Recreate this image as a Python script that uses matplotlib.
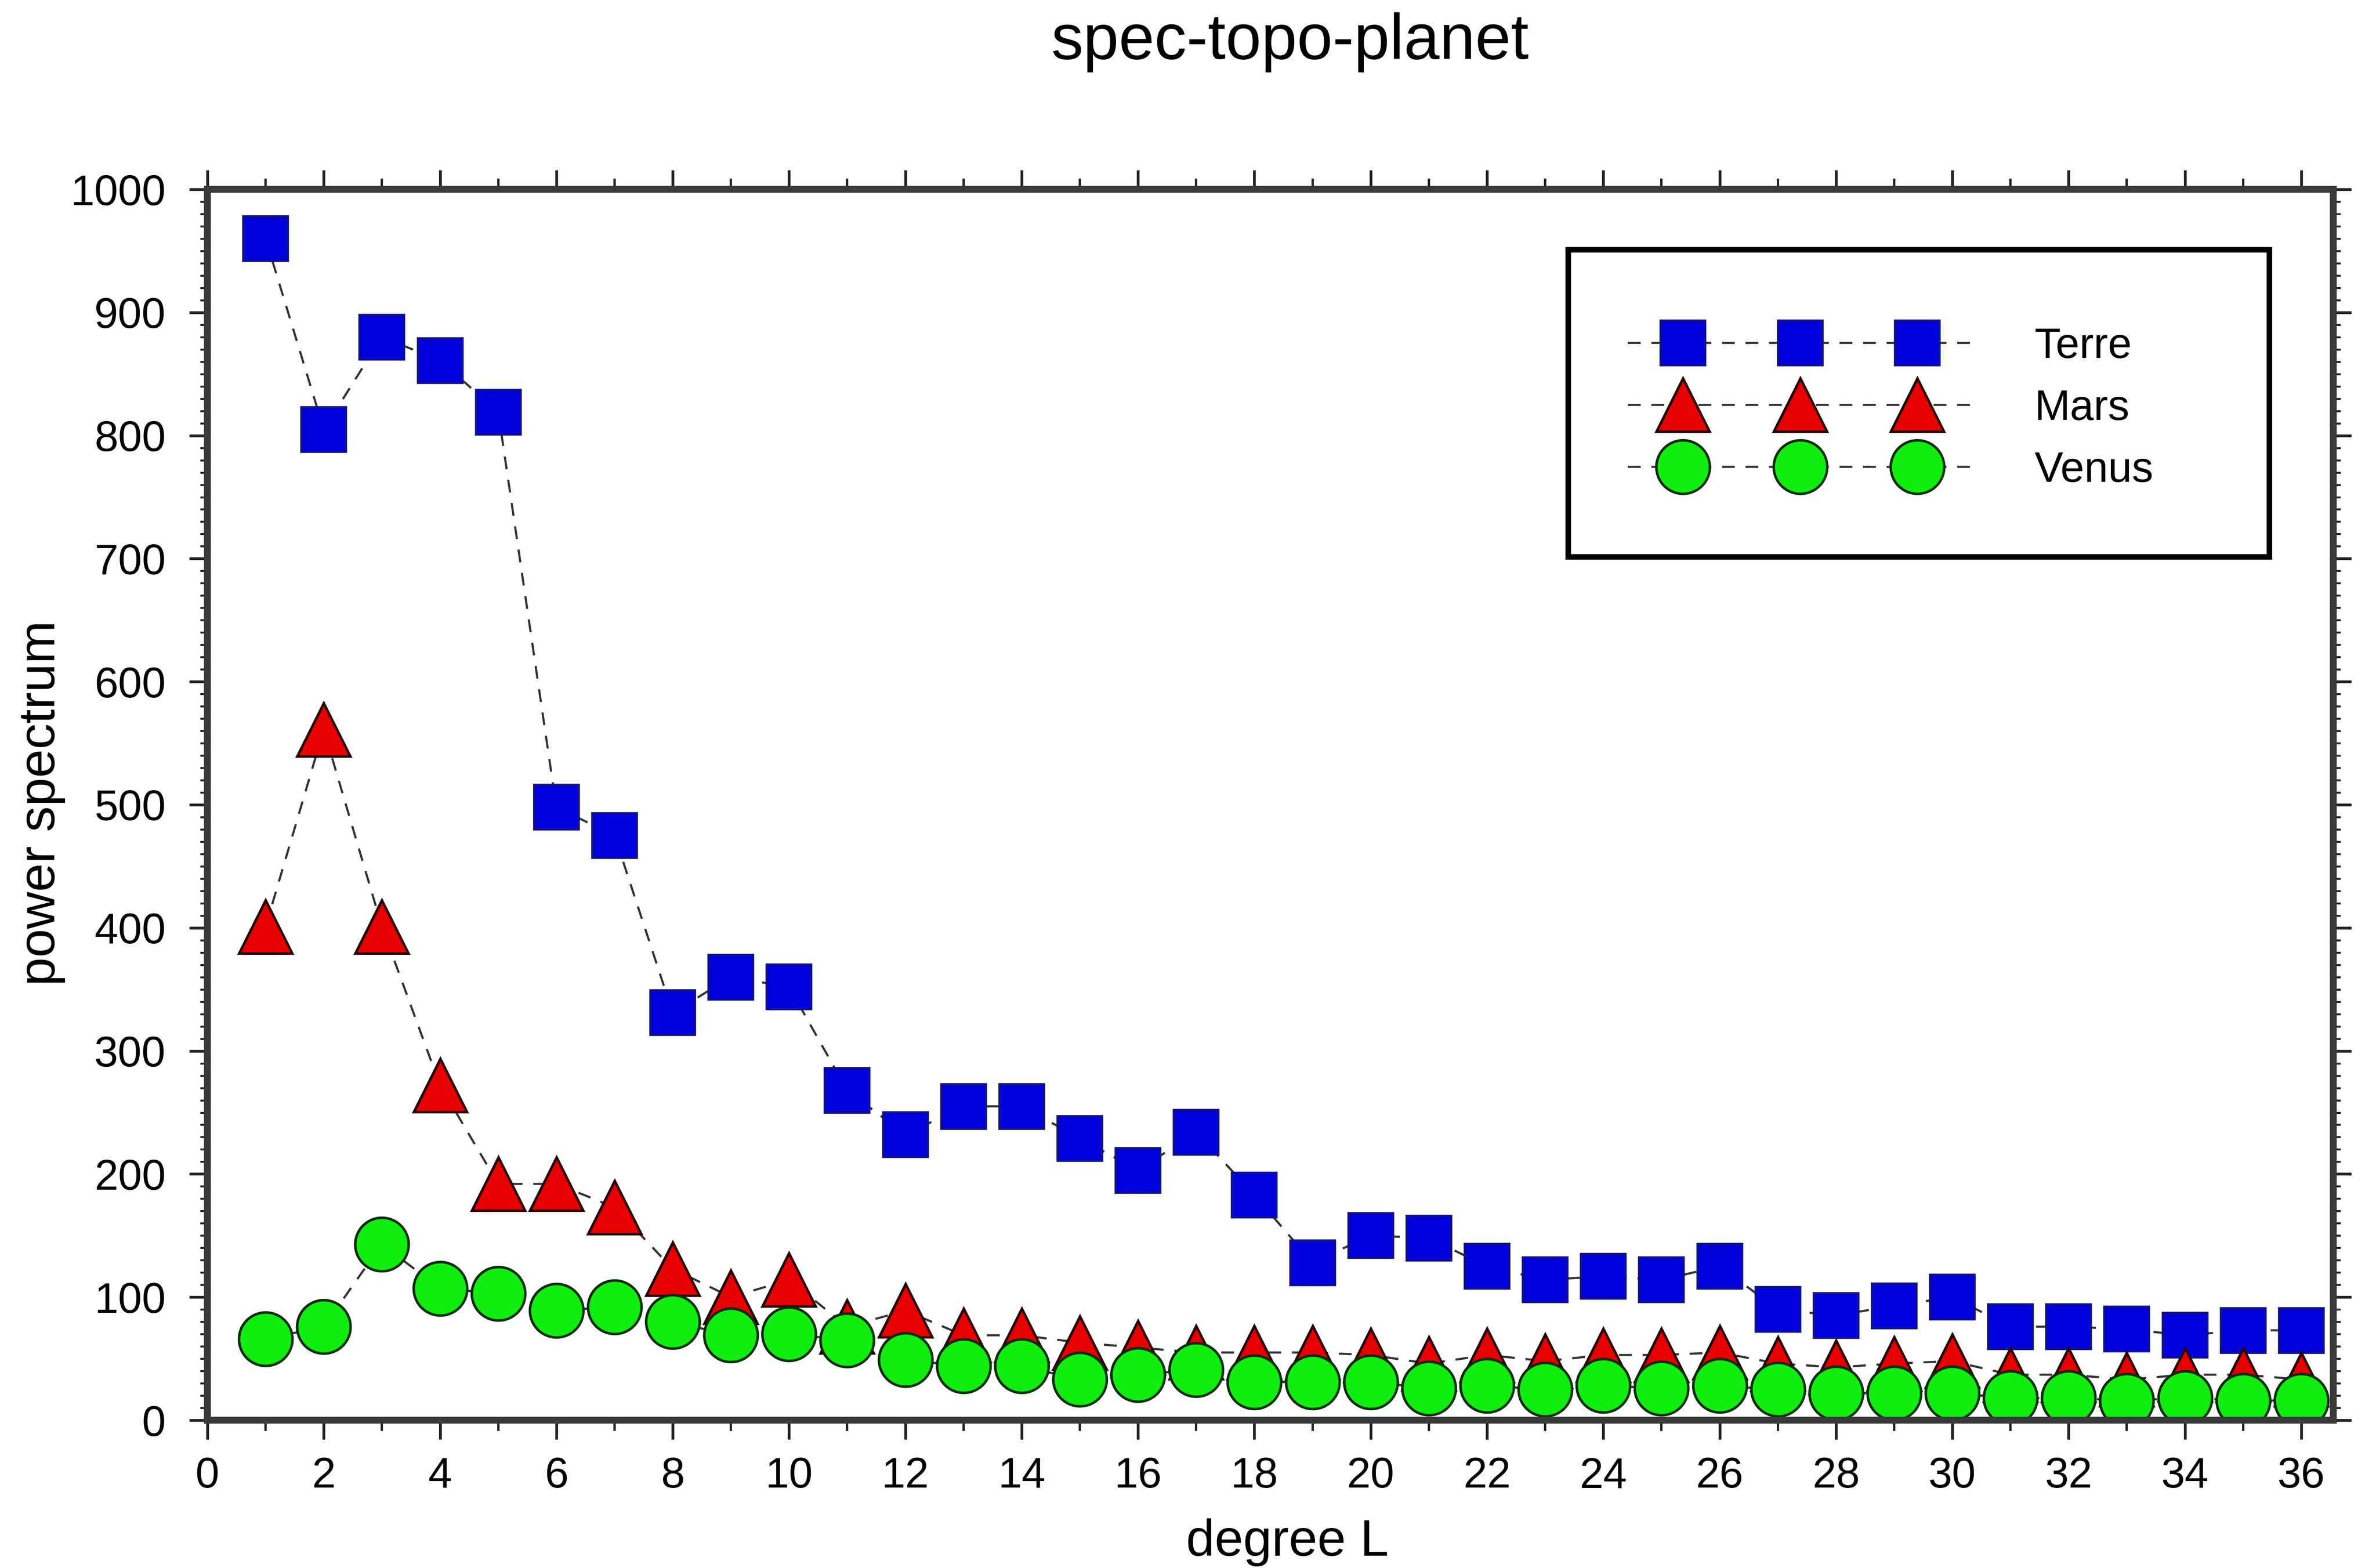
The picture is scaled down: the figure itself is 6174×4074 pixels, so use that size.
import numpy as np
import matplotlib
matplotlib.use('Agg')
import matplotlib.pyplot as plt
from matplotlib.ticker import MultipleLocator
from matplotlib.lines import Line2D
from matplotlib.patches import Rectangle
from matplotlib.legend_handler import HandlerLine2DCompound

plt.rcParams['font.family'] = ['Liberation Sans', 'DejaVu Sans']

# degree L
degree = list(range(1, 37))

terre = [960, 805, 880, 861, 819, 498, 475, 331, 360, 352,
         268, 232, 255, 255, 229, 203, 234, 183, 128, 150,
         148, 125, 114, 117, 114, 125, 90, 85, 93, 100,
         76, 76, 74, 69, 73, 73]
mars = [401, 561, 401, 272, 192, 192, 173, 123, 100, 114,
        76, 89, 69, 69, 63, 59, 55, 55, 55, 53,
        46, 53, 48, 53, 53, 55, 46, 43, 46, 48,
        37, 37, 33, 37, 37, 33]
venus = [66, 76, 143, 107, 103, 89, 92, 80, 69, 70,
         65, 49, 44, 44, 33, 37, 41, 31, 31, 31,
         26, 28, 25, 28, 26, 28, 25, 22, 22, 22,
         18, 18, 16, 18, 16, 16]


class SpacedMarkers(HandlerLine2DCompound):
    # dashes run the full handle width, markers sit inside it
    def get_xdata(self, legend, xdescent, ydescent, width, height, fontsize):
        pad = self._marker_pad * fontsize
        xline = np.linspace(-xdescent, -xdescent + width, 3)
        xmark = np.linspace(-xdescent + pad, -xdescent + width - pad, 3)
        return xline, xmark


W, H = 6174, 4074
fig = plt.figure(figsize=(W / 400, H / 400), dpi=400)
ax = fig.add_axes([539 / W, 1 - 3690 / H, (6063 - 539) / W, (3690 - 492) / H])

dash = (0, (6, 5))
ax.plot(degree, terre, color='#333333', linestyle=dash, linewidth=1.0, marker='s', markersize=21,
        markerfacecolor='#0000dd', markeredgecolor='#10108a', markeredgewidth=1.0, label='Terre')
ax.plot(degree, mars, color='#333333', linestyle=dash, linewidth=1.0, marker='^', markersize=25,
        markerfacecolor='#e60000', markeredgecolor='#2a0000', markeredgewidth=1.2, label='Mars')
ax.plot(degree, venus, color='#333333', linestyle=dash, linewidth=1.0, marker='o', markersize=25,
        markerfacecolor='#10ee10', markeredgecolor='#063006', markeredgewidth=1.2, label='Venus')

ax.set_xlim(0, 36.55)
ax.set_ylim(0, 1000)
ax.xaxis.set_major_locator(MultipleLocator(2))
ax.xaxis.set_minor_locator(MultipleLocator(1))
ax.yaxis.set_major_locator(MultipleLocator(100))
ax.yaxis.set_minor_locator(MultipleLocator(10))
ax.tick_params(axis='both', which='both', direction='out', labelsize=20, top=True, right=True,
               color='#222222')
ax.tick_params(axis='x', which='major', length=9, width=1.3, pad=8)
ax.tick_params(axis='x', which='minor', length=5, width=1.1)
ax.tick_params(axis='y', which='major', length=8.5, width=1.3, pad=11)
ax.tick_params(axis='y', which='minor', length=3.5, width=0.9)

for side in ['left', 'bottom', 'top', 'right']:
    ax.spines[side].set_linewidth(3.2)
    ax.spines[side].set_color('#3a3a3a')

fig.text(3352 / W, 1 - 110 / H, 'spec-topo-planet', fontsize=30, ha='center', va='center')
fig.text(3345 / W, 1 - 4042 / H, 'degree L', fontsize=24, ha='center', va='baseline')
fig.text(142 / W, 1 - 2087 / H, 'power spectrum', fontsize=24, rotation=90,
         rotation_mode='anchor', ha='center', va='baseline')

# legend frame drawn by hand so the padding matches the original box
ax.add_patch(Rectangle((4075 / W, 1 - 1447 / H), (5897 - 4075) / W, (1447 - 649) / H,
                       transform=fig.transFigure, facecolor='white', edgecolor='black',
                       linewidth=2.6, zorder=5, clip_on=False))
handler = SpacedMarkers(marker_pad=1.29, numpoints=3)
leg = ax.legend(loc='center left', bbox_to_anchor=(4230 / W, 1 - 1062 / H),
                bbox_transform=fig.transFigure, frameon=False, fontsize=20,
                handlelength=8.06, handletextpad=1.45, labelspacing=0.51,
                borderpad=0, borderaxespad=0, handler_map={Line2D: handler})
leg.set_zorder(6)

fig.savefig('out.png', dpi=400)
